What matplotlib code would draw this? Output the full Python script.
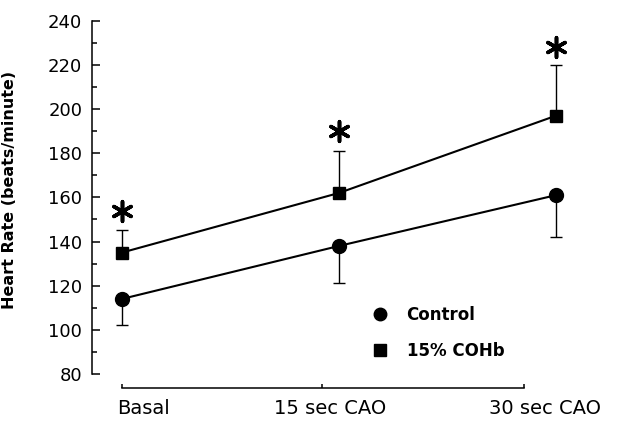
import matplotlib
matplotlib.use("Agg")
import matplotlib.pyplot as plt
from matplotlib.lines import Line2D

# heart rate means and one-sided SD (beats/minute)
categories = ["Basal", "15 sec CAO", "30 sec CAO"]
control_mean = [114, 138, 161]
control_sd = [12, 17, 19]
cohb_mean = [135, 162, 197]
cohb_sd = [10, 19, 23]
# significance markers (p < 0.05 vs control), placed above the error caps
sig_y = [154, 190, 228]

# group positions and where the category names sit under the axis line
x_pos = [0, 1, 2]
axis_ticks = [0, 0.92, 1.85]
label_pos = [0.10, 0.96, 1.95]

plt.rcParams["font.family"] = ["DejaVu Sans"]

fig = plt.figure(figsize=(6.4, 4.28), dpi=100)
ax = fig.add_axes([0.1438, 0.1262, 0.8252, 0.8254])

ax.plot(x_pos, control_mean, color="black", lw=1.5, zorder=3)
ax.plot(x_pos, cohb_mean, color="black", lw=1.5, zorder=3)
ax.errorbar(x_pos, control_mean, yerr=[control_sd, [0, 0, 0]], fmt="o",
            color="black", ms=10, elinewidth=1, capsize=4.5, capthick=1, zorder=4)
ax.errorbar(x_pos, cohb_mean, yerr=[[0, 0, 0], cohb_sd], fmt="s",
            color="black", ms=9, elinewidth=1, capsize=4.5, capthick=1, zorder=4)
ax.scatter(x_pos, sig_y, marker=(6, 2, 0), s=200, color="black", linewidths=2.6, zorder=5)

ax.set_xlim(-0.138, 2.295)
ax.set_ylim(80, 240)

for side in ["top", "right"]:
    ax.spines[side].set_visible(False)
ax.spines["left"].set_linewidth(1.1)
ax.spines["bottom"].set_linewidth(1.1)
ax.spines["bottom"].set_position(("outward", 10))
ax.spines["bottom"].set_bounds(axis_ticks[0], axis_ticks[-1])

ax.set_yticks(range(80, 241, 20))
ax.set_yticks(range(90, 240, 20), minor=True)
ax.tick_params(axis="y", which="major", direction="in", length=6, width=1.1,
               pad=7, labelsize=13)
ax.tick_params(axis="y", which="minor", direction="in", length=3.5, width=1.1)

ax.set_xticks(axis_ticks)
ax.set_xticklabels([])
ax.tick_params(axis="x", which="major", direction="in", length=3, width=1.1)
ax.set_xticks(label_pos, minor=True)
ax.set_xticklabels(categories, minor=True, fontsize=14)
ax.tick_params(axis="x", which="minor", length=0, pad=8)

ax.set_ylabel("Heart Rate (beats/minute)", fontsize=11.5, fontweight="bold")
ax.yaxis.set_label_coords(-0.142, 0.52)

handles = [
    Line2D([], [], marker="o", ls="none", color="black", ms=9),
    Line2D([], [], marker="s", ls="none", color="black", ms=8),
]
ax.legend(handles, ["Control", "15% COHb"], loc="upper left",
          bbox_to_anchor=(0.485, 0.235), frameon=False, handletextpad=0.6,
          labelspacing=1.1, prop={"weight": "bold", "size": 12})

fig.savefig("out.png", dpi=100)
